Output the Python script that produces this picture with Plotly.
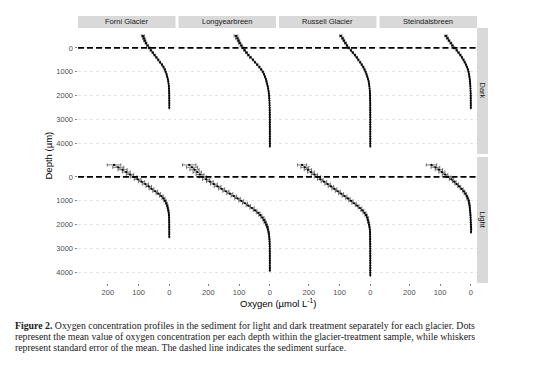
import plotly.graph_objects as go

# ---------------- data ----------------
glaciers = ["Forni Glacier", "Longyearbreen", "Russell Glacier", "Steindalsbreen"]
treatments = ["Dark", "Light"]
y_ticks = [0, 1000, 2000, 3000, 4000]
x_ticks = [200, 100, 0]

depth_2300 = [-500, -400, -300, -200, -100, 0, 100, 200, 300, 400, 500, 600, 700, 800, 900, 1000,
              1100, 1200, 1300, 1400, 1500, 1600, 1700, 1800, 1900, 2000, 2100, 2200, 2300]
depth_2500 = depth_2300 + [2400, 2500]
depth_3900 = depth_2500 + [2600, 2700, 2800, 2900, 3000, 3100, 3200, 3300, 3400, 3500, 3600, 3700, 3800, 3900]
depth_4100 = depth_3900 + [4000, 4100]

# Dark treatment
forni_dark_o2 = [86, 83, 80, 76, 71, 66, 60, 54, 48, 42, 36, 30, 24, 19, 15, 12, 9, 7, 5, 3.5,
                 2.5, 1.5, 1, 0.6, 0.4, 0.3, 0.2, 0.2, 0.1, 0.1, 0.1]
forni_dark_se = [5, 4, 3.5, 3, 3, 2.5, 2.5, 2, 2, 2, 1.5, 1.5, 1.5, 1, 1, 1, 0.8, 0.6, 0.5, 0.4,
                 0.3, 0.3, 0.2, 0.2, 0.2, 0.1, 0.1, 0.1, 0.1, 0.1, 0.1]
longyear_dark_o2 = [110, 106, 102, 98, 93, 88, 82, 76, 70, 63, 55, 48, 41, 34, 28, 23, 19, 16, 13, 11,
                    9, 7, 5.5, 4.2, 3.2, 2.4, 1.8, 1.3, 1, 0.8, 0.6, 0.5, 0.4, 0.3, 0.3, 0.2,
                    0.2, 0.2, 0.1, 0.1, 0.1, 0.1, 0.1, 0.1, 0.1, 0.1, 0.1]
longyear_dark_se = [6, 5, 4, 4, 3.5, 3, 3, 3, 2.5, 2.5, 2, 2, 2, 1.5, 1.5, 1.5, 1, 1, 1, 0.8,
                    0.8, 0.6, 0.5, 0.4, 0.3, 0.2, 0.2, 0.2, 0.2, 0.2, 0.2, 0.2, 0.2, 0.2, 0.2, 0.2,
                    0.2, 0.2, 0.2, 0.2, 0.2, 0.2, 0.2, 0.2, 0.2, 0.2, 0.2]
russell_dark_o2 = [96, 90, 86, 81, 76, 70, 63, 57, 50, 44, 39, 33, 28, 23, 19, 15.5, 12.5, 10, 7.5, 5.5,
                   4.2, 3.2, 2.4, 1.7, 1.2, 0.9, 0.7, 0.5, 0.4, 0.3, 0.3, 0.2, 0.2, 0.2, 0.1, 0.1,
                   0.1, 0.1, 0.1, 0.1, 0.1, 0.1, 0.1, 0.1, 0.1, 0.1, 0.1]
russell_dark_se = [4, 3.5, 3, 3, 2.5, 2.5, 2, 2, 2, 2, 1.5, 1.5, 1.5, 1.5, 1, 1, 1, 0.8, 0.6, 0.5,
                   0.4, 0.3, 0.3, 0.2, 0.2, 0.1, 0.1, 0.1, 0.1, 0.1, 0.1, 0.1, 0.1, 0.1, 0.1, 0.1,
                   0.1, 0.1, 0.1, 0.1, 0.1, 0.1, 0.1, 0.1, 0.1, 0.1, 0.1]
steindals_dark_o2 = [81, 76, 71, 65, 60, 54, 46, 40, 34, 29, 24, 20, 16, 12.5, 9.5, 7.5, 6, 4.6, 3.6, 2.8,
                     2.1, 1.6, 1.2, 0.9, 0.6, 0.5, 0.4, 0.3, 0.3, 0.2, 0.2]
steindals_dark_se = [4, 3.5, 3, 3, 2.5, 2.5, 2, 2, 2, 1.5, 1.5, 1.5, 1, 1, 1, 0.8, 0.6, 0.5, 0.4, 0.3,
                     0.3, 0.2, 0.2, 0.2, 0.1, 0.1, 0.1, 0.1, 0.1, 0.1, 0.1]

# Light treatment
forni_light_o2 = [180, 166, 152, 140, 128, 116, 103, 90, 78, 67, 58, 46, 36, 26, 19, 14, 10, 7, 5, 3.3,
                  2, 1.2, 0.8, 0.5, 0.4, 0.3, 0.3, 0.2, 0.2, 0.2, 0.2]
forni_light_se = [22, 18, 15, 13, 12, 11, 11, 10, 10, 9, 8, 8, 7, 6, 5, 4, 3, 2.5, 2, 1.5,
                  1, 0.8, 0.6, 0.5, 0.4, 0.3, 0.3, 0.2, 0.2, 0.2, 0.2]
longyear_light_o2 = [262, 253, 245, 236, 227, 218, 207, 195, 182, 170, 157, 143, 130, 117, 105, 93, 81, 70,
                     58, 48, 38, 31, 24, 19, 15, 11, 8, 6, 4.2, 3, 2, 1.3, 0.9, 0.6, 0.4, 0.3,
                     0.3, 0.2, 0.2, 0.2, 0.1, 0.1, 0.1, 0.1, 0.1]
longyear_light_se = [22, 18, 15, 14, 13, 12, 12, 11, 11, 11, 10, 10, 10, 9, 9, 8, 8, 7, 7, 6,
                     6, 5, 5, 4, 4, 3, 3, 2, 2, 1.5, 1, 1, 0.8, 0.6, 0.5, 0.4, 0.3, 0.3,
                     0.2, 0.2, 0.2, 0.2, 0.2, 0.2, 0.2]
russell_light_o2 = [222, 213, 203, 193, 182, 172, 163, 151, 139, 128, 117, 106, 95, 84, 73, 63, 53, 43,
                    34, 26, 19, 14, 10, 8, 6, 4, 2.7, 1.8, 1.2, 0.8, 0.6, 0.5, 0.4, 0.3, 0.3, 0.2,
                    0.2, 0.2, 0.2, 0.1, 0.1, 0.1, 0.1, 0.1, 0.1, 0.1, 0.1]
russell_light_se = [15, 13, 12, 11, 10, 10, 9, 9, 9, 9, 8, 8, 8, 8, 7, 7, 7, 6, 6, 5,
                    5, 4, 3, 2.5, 2, 1.5, 1, 0.8, 0.6, 0.5, 0.4, 0.3, 0.3, 0.3, 0.3, 0.3,
                    0.3, 0.3, 0.3, 0.3, 0.3, 0.3, 0.3, 0.3, 0.3, 0.3, 0.3]
steindals_light_o2 = [128, 115, 104, 94, 84, 73, 63, 54, 46, 38, 30, 23, 18, 13, 10, 7, 5.5, 4, 3.2, 2.5,
                      1.8, 1.2, 0.8, 0.5, 0.3, -0.3, -0.8, -1.2, -0.5]
steindals_light_se = [17, 14, 12, 10, 9, 8, 7, 6, 6, 5, 5, 4, 4, 3, 3, 2, 2, 1.5, 1.5, 1,
                      1, 0.8, 0.6, 0.5, 0.5, 0.5, 0.8, 1, 1]

profiles = {
    ("Dark", "Forni Glacier"): (depth_2500, forni_dark_o2, forni_dark_se),
    ("Dark", "Longyearbreen"): (depth_4100, longyear_dark_o2, longyear_dark_se),
    ("Dark", "Russell Glacier"): (depth_4100, russell_dark_o2, russell_dark_se),
    ("Dark", "Steindalsbreen"): (depth_2500, steindals_dark_o2, steindals_dark_se),
    ("Light", "Forni Glacier"): (depth_2500, forni_light_o2, forni_light_se),
    ("Light", "Longyearbreen"): (depth_3900, longyear_light_o2, longyear_light_se),
    ("Light", "Russell Glacier"): (depth_4100, russell_light_o2, russell_light_se),
    ("Light", "Steindalsbreen"): (depth_2300, steindals_light_o2, steindals_light_se),
}

caption_lines = [
    "<b>Figure 2.</b> Oxygen concentration profiles in the sediment for light and dark treatment separately for each glacier. Dots",
    "represent the mean value of oxygen concentration per each depth within the glacier-treatment sample, while whiskers",
    "represent standard error of the mean. The dashed line indicates the sediment surface.",
]

# ---------------- layout geometry ----------------
W, H = 554, 372
col_left = [78, 178.5, 279, 379.5]
col_w = 97.5
row_top = [28, 157]
row_h = 126
strip_h = 12
strip_w = 11

def px_x(v):
    return v / W

def px_y(v):
    return 1 - v / H

fig = go.Figure()
layout = dict(
    width=W, height=H,
    margin=dict(l=0, r=0, t=0, b=0),
    paper_bgcolor="white", plot_bgcolor="white",
    showlegend=False,
    font=dict(family="Liberation Sans, Arial, sans-serif", size=8, color="#1a1a1a"),
)
shapes = []
annotations = []

for r, tr in enumerate(treatments):
    for c, gl in enumerate(glaciers):
        idx = r * 4 + c + 1
        xa = "xaxis" if idx == 1 else f"xaxis{idx}"
        ya = "yaxis" if idx == 1 else f"yaxis{idx}"
        xr = "x" if idx == 1 else f"x{idx}"
        yr = "y" if idx == 1 else f"y{idx}"
        x0 = px_x(col_left[c]); x1 = px_x(col_left[c] + col_w)
        y1 = px_y(row_top[r]); y0 = px_y(row_top[r] + row_h)
        layout[xa] = dict(
            domain=[x0, x1], anchor=yr, range=[297, -20],
            tickvals=x_ticks, ticktext=[str(v) for v in x_ticks],
            showticklabels=(r == 1), ticks="outside" if r == 1 else "",
            ticklen=2, tickcolor="#333333", tickwidth=0.6,
            tickfont=dict(size=7.5, color="#4d4d4d"),
            showgrid=False, zeroline=False, showline=False,
        )
        layout[ya] = dict(
            domain=[y0, y1], anchor=xr, range=[4430, -830],
            tickvals=y_ticks, ticktext=[str(v) for v in y_ticks],
            showticklabels=(c == 0), ticks="outside" if c == 0 else "",
            ticklen=2.5, tickcolor="#333333", tickwidth=0.6,
            tickfont=dict(size=7.5, color="#4d4d4d"),
            showgrid=True, gridcolor="#d2d2d2", gridwidth=0.6, griddash="dot",
            zeroline=False, showline=False,
        )
        depth, o2, se = profiles[(tr, gl)]
        fig.add_trace(go.Scatter(
            x=o2, y=depth, xaxis=xr, yaxis=yr, mode="lines+markers",
            line=dict(color="black", width=0.5),
            marker=dict(color="black", size=2.2),
            error_x=dict(type="data", array=se, visible=True, color="#444444", thickness=0.7, width=1.6),
            hoverinfo="skip",
        ))
        # sediment surface
        shapes.append(dict(
            type="line", xref=f"{xr} domain", yref=yr, x0=0, x1=1, y0=0, y1=0,
            line=dict(color="black", width=1.6, dash="6px,3px"), layer="above",
        ))
        # top strip (glacier names)
        if r == 0:
            shapes.append(dict(
                type="rect", xref="paper", yref="paper",
                x0=x0, x1=x1, y0=px_y(row_top[0]), y1=px_y(row_top[0] - strip_h),
                fillcolor="#d9d9d9", line=dict(width=0), layer="below",
            ))
            annotations.append(dict(
                text=gl, xref="paper", yref="paper", x=(x0 + x1) / 2,
                y=px_y(row_top[0] - strip_h / 2), showarrow=False,
                font=dict(size=7.5, color="#1a1a1a"), xanchor="center", yanchor="middle",
            ))
    # right strip (treatment)
    sx0 = px_x(col_left[3] + col_w); sx1 = px_x(col_left[3] + col_w + strip_w)
    shapes.append(dict(
        type="rect", xref="paper", yref="paper",
        x0=sx0, x1=sx1, y0=px_y(row_top[r] + row_h), y1=px_y(row_top[r]),
        fillcolor="#d9d9d9", line=dict(width=0), layer="below",
    ))
    annotations.append(dict(
        text=tr, xref="paper", yref="paper", x=(sx0 + sx1) / 2,
        y=px_y(row_top[r] + row_h / 2), showarrow=False, textangle=90,
        font=dict(size=7.5, color="#1a1a1a"), xanchor="center", yanchor="middle",
    ))

# axis titles
annotations.append(dict(
    text="Oxygen (µmol L<sup>-1</sup>)", xref="paper", yref="paper",
    x=px_x(277.5), y=px_y(302.5), showarrow=False,
    font=dict(size=9.5, color="black"), xanchor="center", yanchor="middle",
))
annotations.append(dict(
    text="Depth (µm)", xref="paper", yref="paper",
    x=px_x(48), y=px_y(155.5), showarrow=False, textangle=-90,
    font=dict(size=9.5, color="black"), xanchor="center", yanchor="middle",
))

# caption
for i, line in enumerate(caption_lines):
    annotations.append(dict(
        text=line, xref="paper", yref="paper", x=px_x(12.5), y=px_y(325 + i * 11.3),
        showarrow=False, xanchor="left", yanchor="middle", align="left",
        font=dict(family="Liberation Serif, Times New Roman, serif", size=9.8, color="#1a1a1a"),
    ))

layout["shapes"] = shapes
layout["annotations"] = annotations
fig.update_layout(**layout)
fig.write_html(
    "out.html",
    config={"displayModeBar": False, "staticPlot": True},
    post_script="document.body.style.margin='0px';document.body.style.padding='0px';",
)
